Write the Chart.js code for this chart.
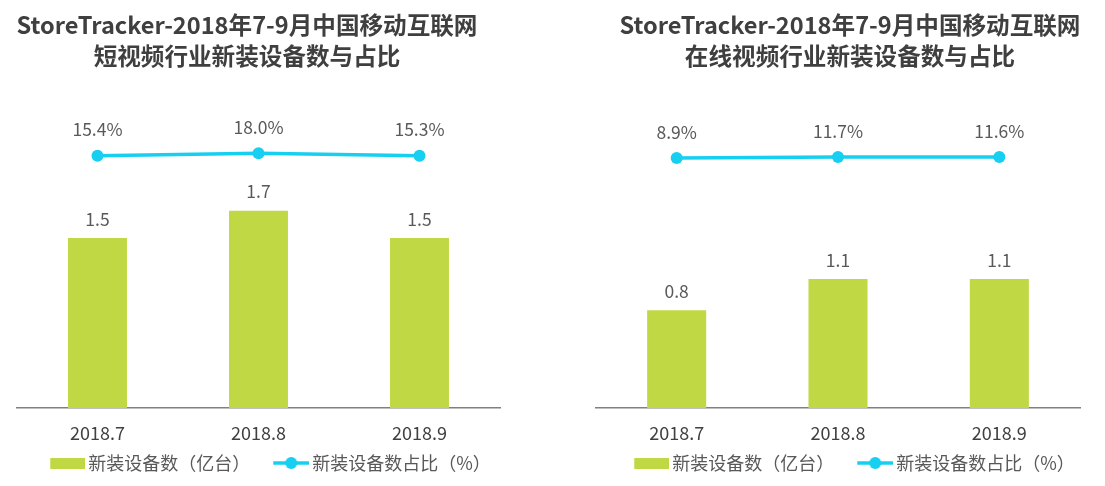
<!DOCTYPE html>
<html>
<head>
<meta charset="utf-8">
<script src="https://cdn.jsdelivr.net/npm/chart.js@4"></script>
<style>
  body { margin: 0; background: #fff; }
  .box { position: absolute; top: 0; height: 486px; }
</style>
</head>
<body>
<div class="box" style="left:0;width:552px"><canvas id="shortChart" width="552" height="486"></canvas></div>
<div class="box" style="left:552px;width:553px"><canvas id="onlineChart" width="553" height="486"></canvas></div>
<script>
// data
const months = ['2018.7', '2018.8', '2018.9'];
const shortInstalls = [1.49, 1.73, 1.49];   // 亿台
const shortShare = [15.4, 18.0, 15.3];      // %
const onlineInstalls = [0.81, 1.07, 1.07];
const onlineShare = [8.9, 11.7, 11.6];

const barLabel = '新装设备数（亿台）';
const lineLabel = '新装设备数占比（%）';

const green = '#c0d843';
const cyan = '#17cff0';
const textColor = '#595959';
const fontFamily = '"Noto Sans CJK SC", "Noto Sans", sans-serif';

// legend icons (visible part sits at the right end, next to the text)
const iconBox = 41;
const rectIcon = document.createElement('canvas');
rectIcon.width = iconBox + 12; rectIcon.height = 11;
let c = rectIcon.getContext('2d');
c.fillStyle = green;
c.fillRect(rectIcon.width - 35, 0, 35, 11);

const lineIcon = document.createElement('canvas');
lineIcon.width = iconBox + 12; lineIcon.height = 14;
c = lineIcon.getContext('2d');
c.strokeStyle = cyan;
c.lineWidth = 3.5;
c.beginPath(); c.moveTo(lineIcon.width - 36, 7); c.lineTo(lineIcon.width, 7); c.stroke();
c.fillStyle = cyan;
c.beginPath(); c.arc(lineIcon.width - 18, 7, 6, 0, Math.PI * 2); c.fill();

// two-line title drawn at a given x
const titlePlugin = {
  id: 'twoLineTitle',
  afterDraw(chart, args, opts) {
    const ctx = chart.ctx;
    ctx.save();
    ctx.fillStyle = '#3f3f3f';
    ctx.font = 'bold 23.6px ' + fontFamily;
    ctx.textAlign = 'center';
    ctx.textBaseline = 'middle';
    opts.lines.forEach((t, i) => ctx.fillText(t, opts.x, 25 + i * 31));
    ctx.restore();
  }
};

// value labels above bars and points
const valuePlugin = {
  id: 'valueLabels',
  afterDatasetsDraw(chart) {
    const ctx = chart.ctx;
    ctx.save();
    ctx.fillStyle = textColor;
    ctx.font = '17.5px ' + fontFamily;
    ctx.textAlign = 'center';
    ctx.textBaseline = 'middle';
    chart.data.datasets.forEach((ds, i) => {
      const meta = chart.getDatasetMeta(i);
      meta.data.forEach((el, j) => {
        if (ds.type === 'bar') {
          ctx.fillText(ds.data[j].toFixed(1), el.x, el.y - 19);
        } else {
          ctx.fillText(ds.data[j].toFixed(1) + '%', el.x, el.y - 26);
        }
      });
    });
    ctx.restore();
  }
};

function makeChart(id, installs, share, title, titleX, padL, padR, y2Width, yMax, y2Min, y2Max) {
  return new Chart(document.getElementById(id), {
    data: {
      labels: months,
      datasets: [
        {
          type: 'bar',
          label: barLabel,
          data: installs,
          backgroundColor: green,
          categoryPercentage: 1,
          barPercentage: 0.366,
          yAxisID: 'y'
        },
        {
          type: 'line',
          label: lineLabel,
          data: share,
          borderColor: cyan,
          backgroundColor: cyan,
          borderWidth: 3.5,
          pointRadius: 6,
          pointBorderWidth: 0,
          pointBackgroundColor: cyan,
          yAxisID: 'y2'
        }
      ]
    },
    options: {
      responsive: false,
      animation: false,
      devicePixelRatio: 1,
      layout: { padding: { top: 100, left: padL, right: padR, bottom: 4 } },
      scales: {
        x: {
          grid: { display: false, drawTicks: false },
          border: { display: true, color: '#808080', width: 1.5 },
          ticks: { color: '#404040', padding: 14, font: { size: 18, family: fontFamily } },
          afterFit(scale) { scale.height = 34; }
        },
        y: { display: false, min: 0, max: yMax },
        y2: {
          position: 'right',
          min: y2Min,
          max: y2Max,
          grid: { display: false },
          border: { display: false },
          ticks: { display: false },
          afterFit(scale) { scale.width = y2Width; }
        }
      },
      plugins: {
        tooltip: { enabled: false },
        legend: {
          position: 'bottom',
          labels: {
            usePointStyle: true,
            pointStyleWidth: iconBox,
            boxHeight: 12,
            padding: 12,
            color: textColor,
            font: { size: 18, family: fontFamily },
            generateLabels(chart) {
              return chart.data.datasets.map((ds, i) => ({
                text: ds.label,
                pointStyle: i === 0 ? rectIcon : lineIcon,
                fillStyle: 'transparent',
                strokeStyle: 'transparent',
                lineWidth: 0,
                fontColor: textColor,
                hidden: false,
                datasetIndex: i
              }));
            }
          }
        },
        twoLineTitle: { lines: title, x: titleX }
      }
    },
    plugins: [titlePlugin, valuePlugin]
  });
}

makeChart('shortChart', shortInstalls, shortShare,
  ['StoreTracker-2018年7-9月中国移动互联网', '短视频行业新装设备数与占比'],
  247, 17, 40, 12, 2.7, -259, 76);

makeChart('onlineChart', onlineInstalls, onlineShare,
  ['StoreTracker-2018年7-9月中国移动互联网', '在线视频行业新装设备数与占比'],
  298, 44, 4, 21, 2.554, -616, 154);
</script>
</body>
</html>
